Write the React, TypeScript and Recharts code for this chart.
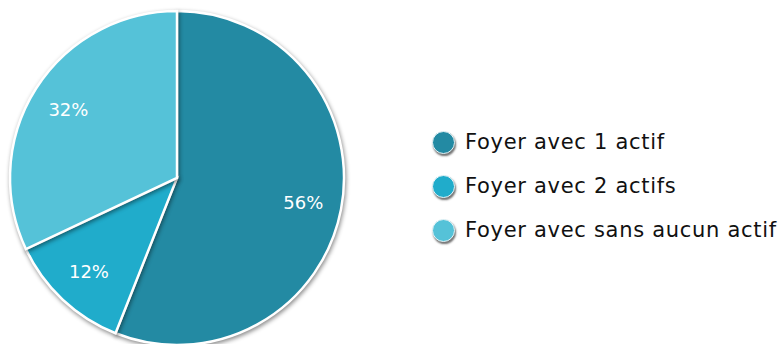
import { PieChart, Pie, Cell } from 'recharts'

const categories = ['Foyer avec 1 actif', 'Foyer avec 2 actifs', 'Foyer avec sans aucun actif']
const shares = [56, 12, 32]
const colors = ['#238aa3', '#20accb', '#55c2d8']

const data = categories.map((name, i) => ({ name, value: shares[i] }))

const RAD = Math.PI / 180

function renderLabel(props: any) {
  const { cx, cy, midAngle, outerRadius, value } = props
  const r = outerRadius * 0.77
  const x = cx + r * Math.cos(-midAngle * RAD)
  const y = cy + r * Math.sin(-midAngle * RAD)
  return (
    <text x={x} y={y} fill="#ffffff" textAnchor="middle" dominantBaseline="central"
      fontSize={18} fontFamily="DejaVu Sans, sans-serif">
      {value}%
    </text>
  )
}

function LegendBox() {
  return (
    <div style={{ position: 'absolute', left: 432, top: 120, fontFamily: 'DejaVu Sans, sans-serif' }}>
      {categories.map((c, i) => (
        <div key={c} style={{ display: 'flex', alignItems: 'center', height: 44 }}>
          <span style={{
            width: 23, height: 23, borderRadius: '50%', background: colors[i],
            boxShadow: '1px 2px 2px rgba(0,0,0,0.55)', border: '1px solid #e8f4f7',
            boxSizing: 'border-box', marginRight: 10,
          }} />
          <span style={{ fontSize: 21, letterSpacing: 0.7, color: '#111', whiteSpace: 'nowrap' }}>{c}</span>
        </div>
      ))}
    </div>
  )
}

export default function App() {
  return (
    <div style={{ position: 'absolute', left: 0, top: 0, width: 780, height: 344, background: '#fff' }}>
      <PieChart width={780} height={344} margin={{ top: 0, right: 0, bottom: 0, left: 0 }}>
        <Pie
          data={data}
          dataKey="value"
          nameKey="name"
          cx={177}
          cy={178}
          outerRadius={167}
          startAngle={90}
          endAngle={-270}
          stroke="#ffffff"
          strokeWidth={2.5}
          label={renderLabel}
          labelLine={false}
          isAnimationActive={false}
          style={{ filter: 'drop-shadow(1px 2px 2px rgba(0,0,0,0.45))' }}
        >
          {data.map((d, i) => <Cell key={d.name} fill={colors[i]} />)}
        </Pie>
      </PieChart>
      <LegendBox />
    </div>
  )
}
